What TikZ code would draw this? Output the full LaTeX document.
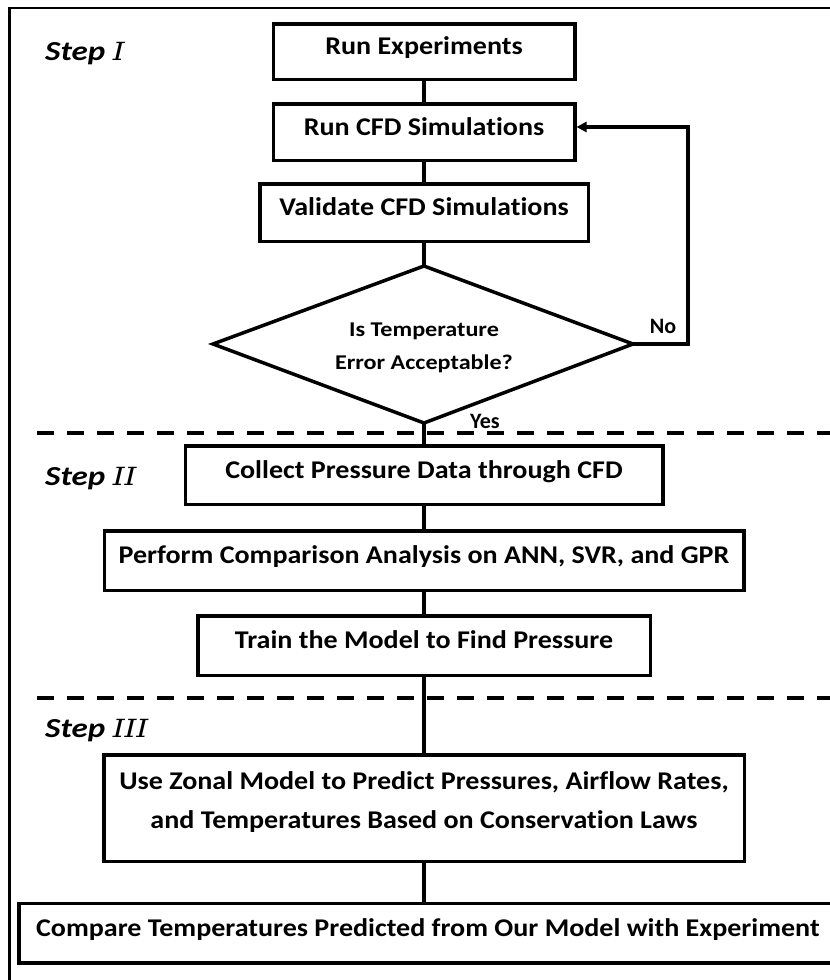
\documentclass[tikz,border=0pt]{standalone}
\usepackage{fontspec}
\setmainfont{Carlito}[Ligatures=NoCommon]
\newfontfamily\boxfont{Carlito}[FakeStretch=1.1, Ligatures=NoCommon]
\newfontfamily\diafont{Carlito}[FakeStretch=1.15, Ligatures=NoCommon]
\newfontfamily\stepfont{Carlito}[FakeStretch=1.2, Ligatures=NoCommon]
\newfontfamily\numfont{DejaVu Serif}[FakeStretch=1.2]
\usetikzlibrary{arrows.meta}
\begin{document}
\begin{tikzpicture}[x=1pt,y=-1pt,
  box/.style={draw, line width=3.5pt, rectangle, inner sep=0pt,
    font=\boxfont\fontsize{25.5}{39}\selectfont\bfseries, align=center,
    text height=13pt, text depth=7pt},
  twoline/.style={text height=48pt, text depth=8pt},
  diatext/.style={inner sep=0pt, font=\diafont\fontsize{21}{33}\selectfont\bfseries,
    align=center, text height=56pt, text depth=6pt},
  decline/.style={line width=3.5pt, line join=miter},
  conn/.style={line width=3.5pt},
  sep/.style={line width=3.2pt, dash pattern=on 17pt off 13pt},
  steplbl/.style={font=\stepfont\fontsize{27.5}{30}\selectfont\bfseries\itshape, anchor=base west, inner sep=0pt},
  yn/.style={font=\fontsize{22}{26}\selectfont\bfseries, inner sep=0pt}]
\useasboundingbox (0,0) rectangle (830,980);
\fill[white] (0,0) rectangle (830,980);
\begin{scope}
\clip (0,0) rectangle (830,980);
% frame
\coordinate (fa) at (9.5,990);
\coordinate (fb) at (9.5,8);
\coordinate (fc) at (840,8);
\draw[line width=2.2pt] (fa) -- (fb) -- (fc);

% step labels
\node[steplbl] (s1) at (45,60) {Step {\numfont\mdseries\itshape\fontsize{25}{30}\selectfont I}};
\node[steplbl] (s2) at (45,485) {Step {\numfont\mdseries\itshape\fontsize{25}{30}\selectfont II}};
\node[steplbl] (s3) at (45,737) {Step {\numfont\mdseries\itshape\fontsize{25}{30}\selectfont III}};

% boxes
\node[box, minimum width=301.5pt, minimum height=55.5pt] (n1) at (424,51.5) {Run Experiments};
\node[box, minimum width=301.5pt, minimum height=56.5pt] (n2) at (424,132) {Run CFD Simulations};
\node[box, minimum width=328.5pt, minimum height=57.5pt] (n3) at (424,212.5) {Validate CFD Simulations};
\node[box, minimum width=477.5pt, minimum height=58.5pt] (n4) at (424,475) {Collect Pressure Data through CFD};
\node[box, minimum width=639.5pt, minimum height=59.5pt] (n5) at (424,560.5) {Perform Comparison Analysis on ANN, SVR, and GPR};
\node[box, minimum width=452.5pt, minimum height=59.5pt] (n6) at (424,645.5) {Train the Model to Find Pressure};
\node[box, twoline, minimum width=640.5pt, minimum height=106.5pt] (n7) at (424,808) {Use Zonal Model to Predict Pressures, Airflow Rates,\\and Temperatures Based on Conservation Laws};
\node[box, minimum width=818pt, minimum height=59.5pt] (n8) at (428,933) {Compare Temperatures Predicted from Our Model with Experiment};

% decision diamond
\coordinate (dt) at (424,266);
\coordinate (dl) at (213,344);
\coordinate (dr) at (633,344);
\coordinate (db) at (424,423);
\draw[decline] (dt) -- (dr) -- (db) -- (dl) -- cycle;
\node[diatext] (dia) at (424,344) {Is Temperature\\Error Acceptable?};

% separators
\coordinate (d1a) at (37,433);
\coordinate (d1b) at (835,433);
\coordinate (d2a) at (37,698);
\coordinate (d2b) at (835,698);
\draw[sep] (d1a) -- (d1b);
\draw[sep] (d2a) -- (d2b);

% connectors
\coordinate (fbk) at (688,344);
\draw[conn] (n1.south) -- (n2.north);
\draw[conn] (n2.south) -- (n3.north);
\draw[conn] (n3.south) -- (dt);
\draw[conn] (db) -- (n4.north);
\draw[conn] (n4.south) -- (n5.north);
\draw[conn] (n5.south) -- (n6.north);
\draw[conn] (n6.south) -- (n7.north);
\draw[conn] (n7.south) -- (n7.south |- n8.north);
\draw[conn, -{Triangle[length=10pt,width=10pt]}] (dr) -- (fbk) |- ([yshift=5pt]n2.east);

% labels
\node[yn] (no) at (663,326) {No};
\node[yn] (yes) at (485,421) {Yes};
\end{scope}
\end{tikzpicture}
\end{document}
